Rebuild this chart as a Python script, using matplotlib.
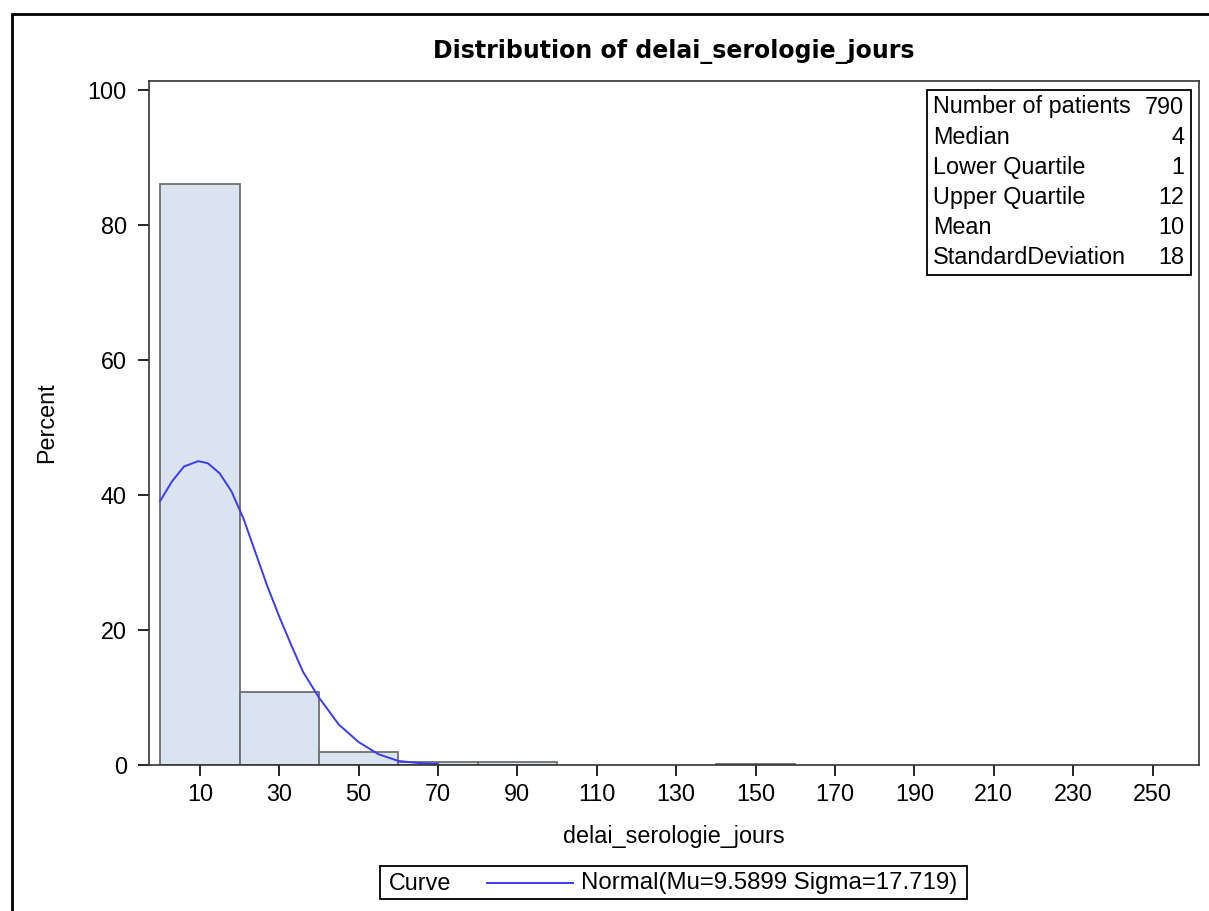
import matplotlib.pyplot as plt
from matplotlib.patches import Rectangle

plt.rcParams["font.family"] = ["Liberation Sans", "DejaVu Sans"]

# histogram (bins of 20 days, percent of patients)
bin_left = [0, 20, 40, 60, 80, 140]
pct = [86.0, 10.8, 1.95, 0.5, 0.5, 0.13]
bin_width = 20

# normal curve
curve_x = [0, 3, 6, 9.6, 12, 15, 18, 21, 24, 27, 30, 33, 36, 40, 45, 50, 55, 60, 65, 70]
curve_y = [39.1, 42.0, 44.2, 45.0, 44.7, 43.2, 40.5, 36.5, 31.5, 26.5, 22.0, 17.8, 13.8, 10.0,
           6.0, 3.4, 1.6, 0.6, 0.3, 0.15]

stat_names = ["Number of patients", "Median", "Lower Quartile", "Upper Quartile", "Mean", "StandardDeviation"]
stat_values = ["790", "4", "1", "12", "10", "18"]

xticks = list(range(10, 260, 20))
yticks = [0, 20, 40, 60, 80, 100]

fs = 16.8

fig = plt.figure(figsize=(12.09, 9.11), dpi=100)
ax = fig.add_axes([149 / 1209, 1 - 765 / 911, 1050 / 1209, 684 / 911])

ax.bar(bin_left, pct, width=bin_width, align="edge", color="#dae3f0",
       edgecolor="#6e6e6e", linewidth=1.3)
ax.plot(curve_x, curve_y, color="#3b3bf0", linewidth=1.4)

ax.set_xlim(-2.8, 261.7)
ax.set_ylim(0, 101.3)
ax.set_xticks(xticks)
ax.set_yticks(yticks)
ax.tick_params(direction="out", length=8, width=1.2, labelsize=fs)
ax.tick_params(axis="x", pad=5)
ax.tick_params(axis="y", pad=8)
for s in ax.spines.values():
    s.set_linewidth(1.2)
    s.set_color("#333333")

ax.set_xlabel("delai_serologie_jours", fontsize=fs, labelpad=14)
ax.set_ylabel("Percent", fontsize=fs, labelpad=21)
fig.text(674 / 1209, 1 - 51 / 911, "Distribution of delai_serologie_jours", fontsize=17,
         fontweight="bold", family="DejaVu Sans", ha="center", va="center")

# stats inset box
bx0, by0, bx1, by1 = 927, 90, 1191, 275
fig.patches.append(Rectangle((bx0 / 1209, 1 - by1 / 911), (bx1 - bx0) / 1209, (by1 - by0) / 911,
                             transform=fig.transFigure, fill=False, edgecolor="black", linewidth=1.3))
for i, (n, v) in enumerate(zip(stat_names, stat_values)):
    yy = 1 - (107 + i * 30.2) / 911
    fig.text(933 / 1209, yy, n, fontsize=fs, va="center", ha="left")
    fig.text(1184 / 1209, yy, v, fontsize=fs, va="center", ha="right")

# bottom legend
lx0, ly0, lx1, ly1 = 380, 866, 967, 899
fig.patches.append(Rectangle((lx0 / 1209, 1 - ly1 / 911), (lx1 - lx0) / 1209, (ly1 - ly0) / 911,
                             transform=fig.transFigure, fill=False, edgecolor="black", linewidth=1.3))
ly = 1 - 883 / 911
fig.text(389 / 1209, ly, "Curve", fontsize=fs, va="center", ha="left")
fig.add_artist(plt.Line2D([487 / 1209, 573 / 1209], [ly, ly], transform=fig.transFigure,
                          color="#3b3bf0", linewidth=1.4))
fig.text(581 / 1209, ly, "Normal(Mu=9.5899 Sigma=17.719)", fontsize=17.3, va="center", ha="left")

# outer frame
fig.patches.append(Rectangle((12 / 1209, -0.1), 1.2, 0.1 + (1 - 14 / 911),
                             transform=fig.transFigure, fill=False, edgecolor="black", linewidth=2))

fig.savefig("out.png", dpi=100)
